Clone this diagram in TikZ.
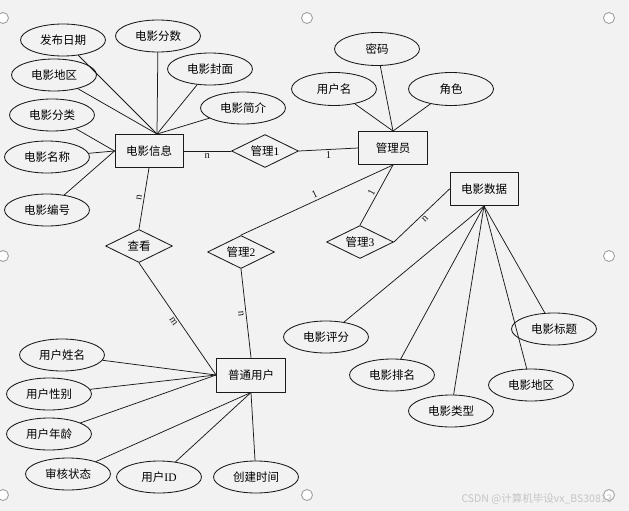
\documentclass[tikz,border=0pt]{standalone}
\usepackage{fontspec}
\setmainfont{Liberation Serif}
\newfontfamily\cjk{Noto Sans CJK SC}
\usetikzlibrary{shapes.geometric}
\definecolor{erbg}{HTML}{F2F2F2}
\definecolor{erline}{HTML}{1A1A1A}
\definecolor{handlegray}{HTML}{A0A0A0}
\definecolor{markgray}{HTML}{C4C4C4}
\tikzset{
  every picture/.style={line cap=round, line join=round},
  link/.style={erline, line width=0.75pt},
  % attribute ellipses, entity boxes and relationship diamonds
  attr/.style={ellipse, draw=erline, line width=0.85pt, minimum width=85pt, minimum height=32pt,
    inner sep=0pt, font=\cjk\fontsize{11.5}{13}\selectfont},
  ent/.style={rectangle, draw=erline, line width=0.95pt, minimum width=68pt, minimum height=33pt,
    inner sep=0pt, font=\cjk\fontsize{11.5}{13}\selectfont},
  rel/.style={diamond, draw=erline, line width=0.85pt, minimum width=67pt, minimum height=33pt,
    aspect=2, inner sep=0pt, font=\cjk\fontsize{11.5}{13}\selectfont},
  card/.style={font=\fontsize{10.5}{12}\selectfont, inner sep=2pt},
}

\begin{document}
\begin{tikzpicture}[x=1pt, y=-1pt]
  \fill[erbg] (0,0) rectangle (629,511);
  \useasboundingbox (0,0) rectangle (629,511);
  % ---------- selection handles
  \foreach \hx/\hy in {3/18, 307/18, 609/18, 3/256, 609/256, 3/495, 307/495, 609/495}
    \draw[handlegray, line width=0.9pt, fill=white] (\hx,\hy) circle (5.5);
  % ---------- entities and relationships
  \node[ent] (info)  at (149,151) {电影信息};
  \node[ent, minimum width=69pt] (admin) at (393,148) {管理员};
  \node[ent] (data)  at (484,189) {电影数据};
  \node[ent, minimum width=69pt, minimum height=34pt] (user) at (251,375) {普通用户};
  \node[rel] (relA) at (265,151) {管理\textrm{1}};
  \node[rel] (relB) at (241,252) {管理\textrm{2}};
  \node[rel] (relC) at (360,242) {管理\textrm{3}};
  \node[rel] (view) at (139,246) {查看};
  % ---------- attributes of 电影信息
  \node[attr] (fbrq) at (63,40)  {发布日期};
  \node[attr] (fs)   at (158,36) {电影分数};
  \node[attr] (fm)   at (210,69) {电影封面};
  \node[attr] (dq)   at (54,75)  {电影地区};
  \node[attr] (fl)   at (52,115) {电影分类};
  \node[attr] (jj)   at (243,108) {电影简介};
  \node[attr] (mc)   at (47,157) {电影名称};
  \node[attr] (bh)   at (47,210) {电影编号};
  \foreach \a in {fbrq, fs, fm, dq, jj}
    \draw[link] (\a) -- ([xshift=8pt]info.north);
  \foreach \a in {fl, mc, bh}
    \draw[link] (\a) -- (info.west);
  % ---------- attributes of 管理员
  \node[attr, minimum height=33pt] (mm) at (377,49) {密码};
  \node[attr, minimum height=33pt] (yhm) at (334,89) {用户名};
  \node[attr, minimum height=33pt] (js) at (451,89) {角色};
  \foreach \a in {mm, yhm, js}
    \draw[link] (\a) -- (admin.north);
  % ---------- attributes of 电影数据
  \node[attr] (pf)  at (326,337) {电影评分};
  \node[attr] (pm)  at (392,375) {电影排名};
  \node[attr] (lx)  at (451,411) {电影类型};
  \node[attr] (dq2) at (531,385) {电影地区};
  \node[attr] (bt)  at (554,329) {电影标题};
  \foreach \a in {pf, pm, lx, dq2, bt}
    \draw[link] (\a) -- (data.south);
  % ---------- attributes of 普通用户
  \node[attr] (xm)   at (62,355)  {用户姓名};
  \node[attr] (xb)   at (49,394)  {用户性别};
  \node[attr] (nl)   at (49,434)  {用户年龄};
  \node[attr] (shzt) at (68,474)  {审核状态};
  \node[attr] (uid)  at (159,477) {用户\textrm{ID}};
  \node[attr] (cjsj) at (256,477) {创建时间};
  \foreach \a in {xm, xb, nl}
    \draw[link] (\a) -- (user.west);
  \foreach \a in {shzt, uid, cjsj}
    \draw[link] (\a) -- (user.south);
  % ---------- relationships with their cardinalities
  \draw[link] (info.east) -- node[card, below] {n} (relA.west);
  \draw[link] (relA.east) -- node[card, below] {1} (admin.west);
  \draw[link] (info.south) -- node[card, sloped, above] {n} (view.north);
  \draw[link] (view.south) -- node[card, sloped, below] {m} (user.west);
  \draw[link] (admin.south) -- node[card, sloped, above] {1} (relB.north);
  \draw[link] (relB.south) -- node[card, sloped, below] {n} (user.north);
  \draw[link] (admin.south) -- node[card, sloped, above] {1} (relC.north);
  \draw[link] (relC.east) -- node[card, sloped, below] {n} (data.west);
  % ---------- watermark
  \node[markgray, font=\cjk\fontsize{10.5}{12}\selectfont, inner sep=0pt] (mark) at (537,499)
    {CSDN @计算机毕设vx\_BS30813};
\end{tikzpicture}
\end{document}
